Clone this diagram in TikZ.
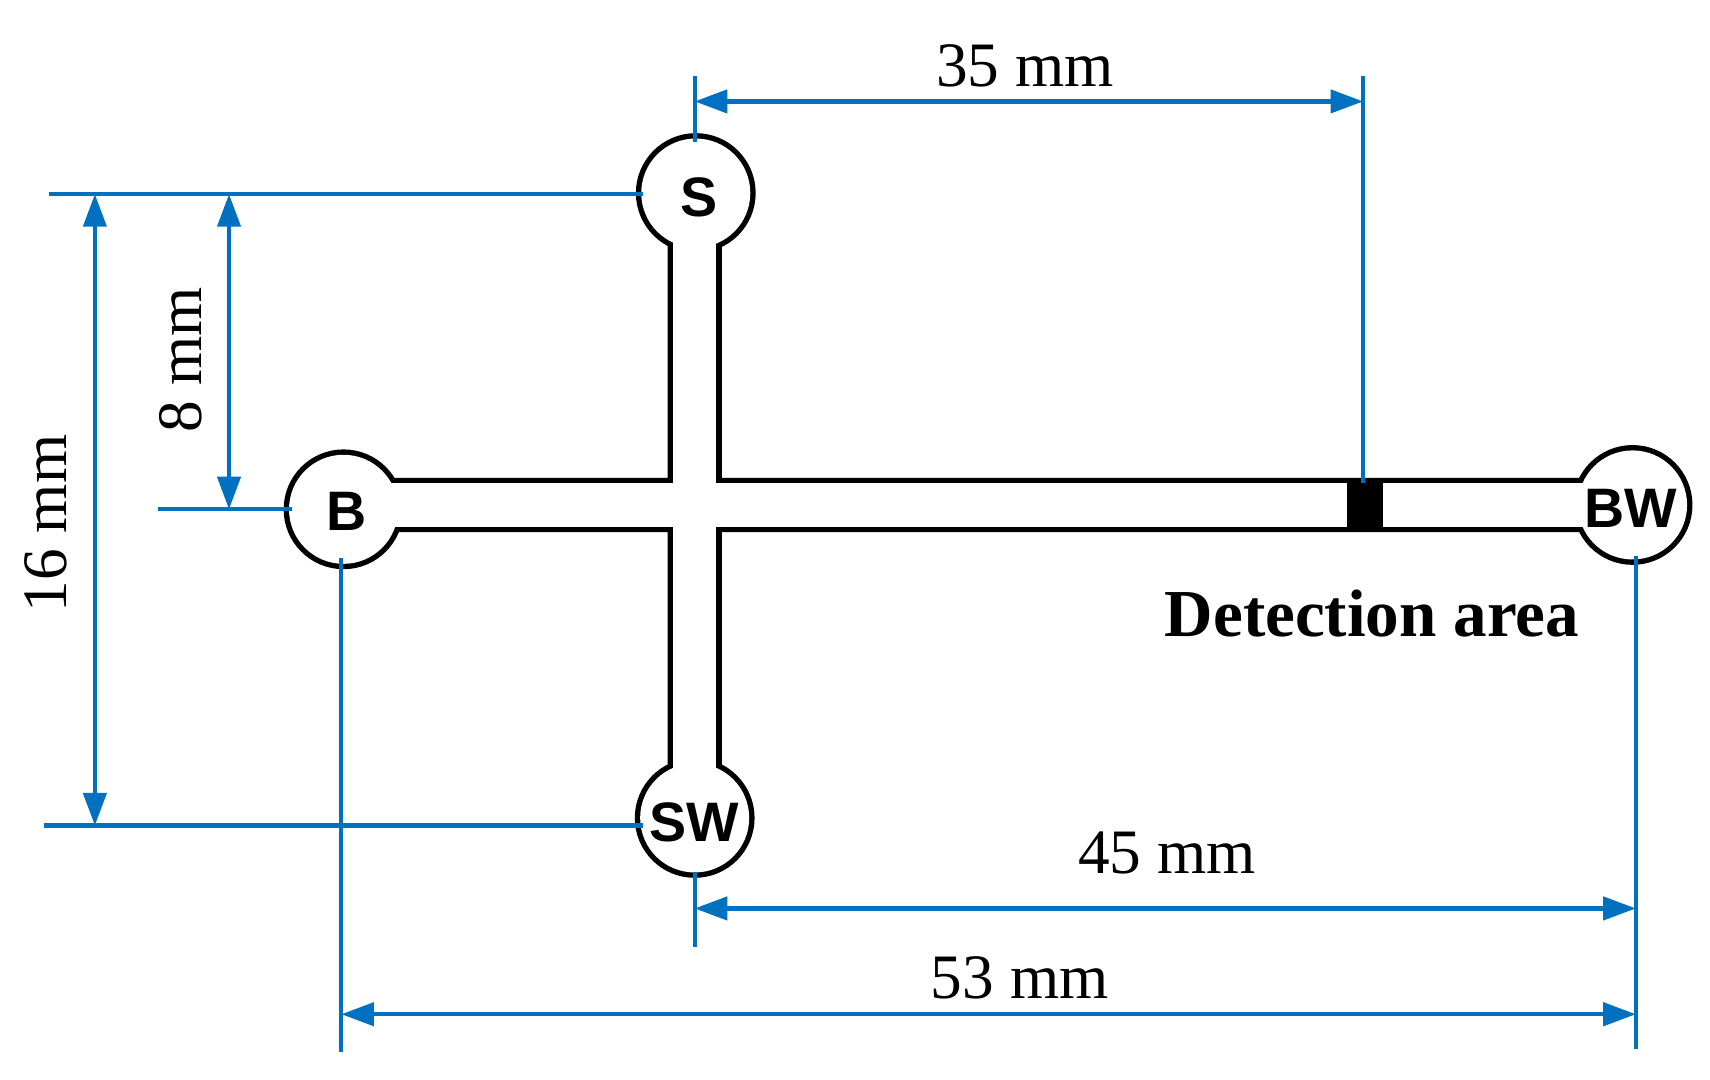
\documentclass[tikz,border=0pt]{standalone}
\usepackage{fontspec}
\setmainfont{Liberation Serif}
\setsansfont{Liberation Sans}
\usetikzlibrary{arrows.meta}
\definecolor{dimblue}{RGB}{0,112,192}
\begin{document}
\begin{tikzpicture}[x=0.01cm,y=-0.01cm,
  dim/.style={dimblue,line width=1.1pt},
  dimarrow/.style={dim,{Triangle[length=8.5pt,width=6pt]}-{Triangle[length=8.5pt,width=6pt]}},
  dimtext/.style={font=\fontsize{16.5}{18}\selectfont,text=black},
  port/.style={font=\sffamily\bfseries\fontsize{14.5}{16}\selectfont,inner sep=0pt},
  chan/.style={line width=2.8pt}]
\useasboundingbox (0,0) rectangle (1568,990);
% channels outline
\draw[chan] (638,177) circle (50) (315,467) circle (50) (1497,463) circle (50) (637,750) circle (50)
  (315,443) rectangle (1497,483) (617,177) rectangle (657,750);
\fill[white] (638,177) circle (50);
\fill[white] (315,467) circle (50);
\fill[white] (1497,463) circle (50);
\fill[white] (637,750) circle (50);
\fill[white] (315,443) rectangle (1497,483);
\fill[white] (617,177) rectangle (657,750);
\fill[black] (1235,442) rectangle (1268,484);
\node[port] (S) at (641,181) {S};
\node[port] (B) at (318,469) {B};
\node[port] (BW) at (1495,466) {BW};
\node[port] (SW) at (637,754) {SW};
% coordinates
\coordinate (a1) at (637,70); \coordinate (a2) at (637,130);
\coordinate (b1) at (1250,70); \coordinate (b2) at (1250,443);
\draw[dim] (a1)--(a2) (b1)--(b2);
\draw[dimarrow] (637,93) -- (1250,93);
\node[dimtext] (t35) at (940,60) {35 mm};
\coordinate (c1) at (45,178); \coordinate (c2) at (590,178);
\coordinate (d1) at (40,757); \coordinate (d2) at (590,757);
\coordinate (e1) at (145,467); \coordinate (e2) at (268,467);
\draw[dim] (c1)--(c2) (d1)--(d2) (e1)--(e2);
\draw[dimarrow] (87,178) -- (87,757);
\node[dimtext,rotate=90] (t16) at (42,480) {16 mm};
\draw[dimarrow] (210,178) -- (210,467);
\node[dimtext,rotate=90] (t8) at (166,330) {8 mm};
\coordinate (f1) at (637,800); \coordinate (f2) at (637,868);
\coordinate (g1) at (1500,510); \coordinate (g2) at (1500,962);
\coordinate (h1) at (313,512); \coordinate (h2) at (313,965);
\draw[dim] (f1)--(f2) (g1)--(g2) (h1)--(h2);
\draw[dimarrow] (637,833) -- (1500,833);
\node[dimtext] (t45) at (1070,782) {45 mm};
\draw[dimarrow] (313,930) -- (1500,930);
\node[dimtext] (t53) at (935,897) {53 mm};
\node[font=\bfseries\fontsize{17.5}{20}\selectfont] (det) at (1258,563) {Detection area};
\end{tikzpicture}
\end{document}
